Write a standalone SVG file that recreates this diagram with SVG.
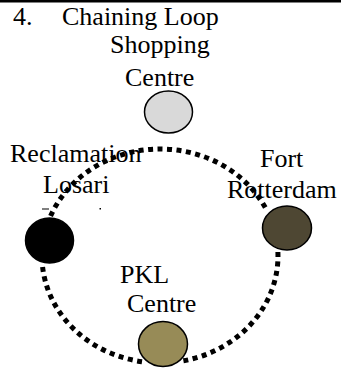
<svg xmlns="http://www.w3.org/2000/svg" width="342" height="369" viewBox="0 0 342 369">
<style>
text{font-family:"Liberation Serif","Times New Roman",serif;font-size:26px;fill:#000}
.node{stroke:#000;stroke-width:1.5}
.loop{fill:none;stroke:#000;stroke-width:5;stroke-dasharray:5 4.5}
</style>
<rect x="0" y="0" width="341" height="2.5" fill="#000"/>
<g id="title">
<text x="13" y="25">4.</text>
<text x="62" y="25">Chaining Loop</text>
</g>
<g id="shopping-centre">
<text x="110" y="53">Shopping</text>
<text x="125" y="86">Centre</text>
<ellipse class="node" cx="168.5" cy="112" rx="24" ry="21" fill="#d9d9d9"/>
</g>
<g id="reclamation-losari">
<text x="10" y="162">Reclamation</text>
<text x="43" y="193">Losari</text>
<rect x="42" y="208.5" width="7" height="1" fill="#000"/>
<rect x="99.5" y="208" width="1.5" height="1.5" fill="#000"/>
<ellipse class="node" cx="49.5" cy="240.5" rx="24" ry="22.5" fill="#000"/>
</g>
<g id="fort-rotterdam">
<text x="260" y="167">Fort</text>
<text x="227" y="198">Rotterdam</text>
<ellipse class="node" cx="287" cy="228" rx="24.5" ry="22" fill="#4e4733"/>
</g>
<g id="pkl-centre">
<text x="120" y="283">PKL</text>
<text x="127" y="312">Centre</text>
<ellipse class="node" cx="163" cy="344" rx="24.5" ry="22.5" fill="#978b57"/>
</g>
<g id="connectors">
<path class="loop" d="M 50.6 216 A 118 107 0 0 1 267.1 211"/>
<path class="loop" d="M 277.9 252 A 118 107 0 0 1 183 360.9"/>
<path class="loop" d="M 142 361.7 A 118 107 0 0 1 42.3 264"/>
</g>
</svg>
